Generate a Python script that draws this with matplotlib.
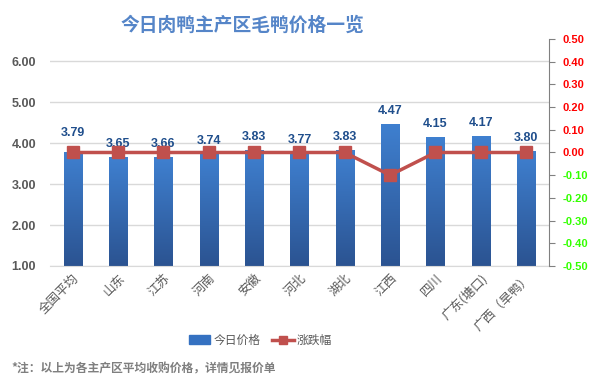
import numpy as np
import matplotlib.pyplot as plt
from matplotlib.lines import Line2D
from matplotlib.patches import Patch

plt.rcParams['font.family'] = ['Noto Sans CJK SC', 'DejaVu Sans']

# data
regions = ['全国平均', '山东', '江苏', '河南', '安徽', '河北', '湖北', '江西', '四川', '广东(塘口)', '广西（旱鸭）']
prices = [3.79, 3.65, 3.66, 3.74, 3.83, 3.77, 3.83, 4.47, 4.15, 4.17, 3.80]
changes = [0.00, 0.00, 0.00, 0.00, 0.00, 0.00, 0.00, -0.10, 0.00, 0.00, 0.00]
left_ticks = [1, 2, 3, 4, 5, 6]
right_ticks = [-0.5, -0.4, -0.3, -0.2, -0.1, 0.0, 0.1, 0.2, 0.3, 0.4, 0.5]

fig = plt.figure(figsize=(5.92, 3.91), dpi=100)
ax = fig.add_axes([0.0845, 0.3197, 0.8425, 0.5806])
x = np.arange(len(regions))

# bars with a vertical gradient
bars = ax.bar(x, prices, width=0.4, bottom=0, color='#3571c1', zorder=2)
grad = np.linspace(0, 1, 256).reshape(-1, 1)
cmap = plt.matplotlib.colors.LinearSegmentedColormap.from_list('b', ['#2b5391', '#3f80d0'])
for b in bars:
    x0, w, h = b.get_x(), b.get_width(), b.get_height()
    im = ax.imshow(grad, extent=[x0, x0 + w, 1, h], origin='lower', cmap=cmap,
                   aspect='auto', zorder=2)
    im.set_clip_path(b)

for i, p in enumerate(prices):
    off = 9 if i == 0 else 5
    ax.annotate(f'{p:.2f}', (x[i], p), xytext=(0, off), textcoords='offset points',
                ha='center', va='bottom', fontsize=9, fontweight='bold', color='#1f4e8c',
                family='Liberation Sans')

ax.set_xlim(-0.5, len(regions) - 0.5)
ax.set_ylim(1, 6.54)
ax.set_yticks(left_ticks)
ax.set_yticklabels([f'{v:.2f}' for v in left_ticks], fontsize=9,
                   fontweight='bold', color='#595959', family='Liberation Sans')
ax.grid(axis='y', color='#d9d9d9', lw=1, zorder=0)
ax.set_axisbelow(True)
for s in ['top', 'right', 'left']:
    ax.spines[s].set_visible(False)
ax.spines['bottom'].set_color('#d9d9d9')
ax.tick_params(axis='both', length=0)
ax.tick_params(axis='y', pad=10)
ax.tick_params(axis='x', pad=4)
ax.set_xticks(x)
ax.set_xticklabels(regions, rotation=45, ha='right', rotation_mode='anchor',
                   fontsize=9, color='#595959')

# change line on the right axis
ax2 = ax.twinx()
ax2.plot(x, changes, color='#c0504d', lw=2.5, marker='s', markersize=8,
         markerfacecolor='#c0504d', zorder=3)
ax2.set_ylim(-0.5, 0.5)
ax2.set_yticks(right_ticks)
ax2.set_yticklabels([f'{v:.2f}' for v in right_ticks], fontsize=8, fontweight='bold',
                    family='Liberation Sans')
for lab, v in zip(ax2.get_yticklabels(), right_ticks):
    lab.set_color('#ff0000' if v >= 0 else '#33ff00')
for s in ['top', 'left', 'bottom']:
    ax2.spines[s].set_visible(False)
ax2.spines['right'].set_color('#808080')
ax2.tick_params(axis='y', length=4, color='#808080', pad=6)

fig.text(0.41, 0.935, '今日肉鸭主产区毛鸭价格一览', ha='center', va='center',
         fontsize=13.5, fontweight='bold', color='#5585c8')

handles = [Patch(color='#3571c1'),
           Line2D([0], [0], color='#c0504d', lw=2.5, marker='s', markersize=6)]
fig.legend(handles, ['今日价格', '涨跌幅'], loc='center', bbox_to_anchor=(0.44, 0.13),
           ncol=2, frameon=False, fontsize=8.5, handlelength=1.8, handletextpad=0.3,
           columnspacing=1.0, labelcolor='#595959')

fig.text(0.02, 0.055, '*注：以上为各主产区平均收购价格，详情见报价单', ha='left', va='center',
         fontsize=8.5, fontweight='bold', color='#7f7f7f')

fig.savefig('out.png', dpi=100)
